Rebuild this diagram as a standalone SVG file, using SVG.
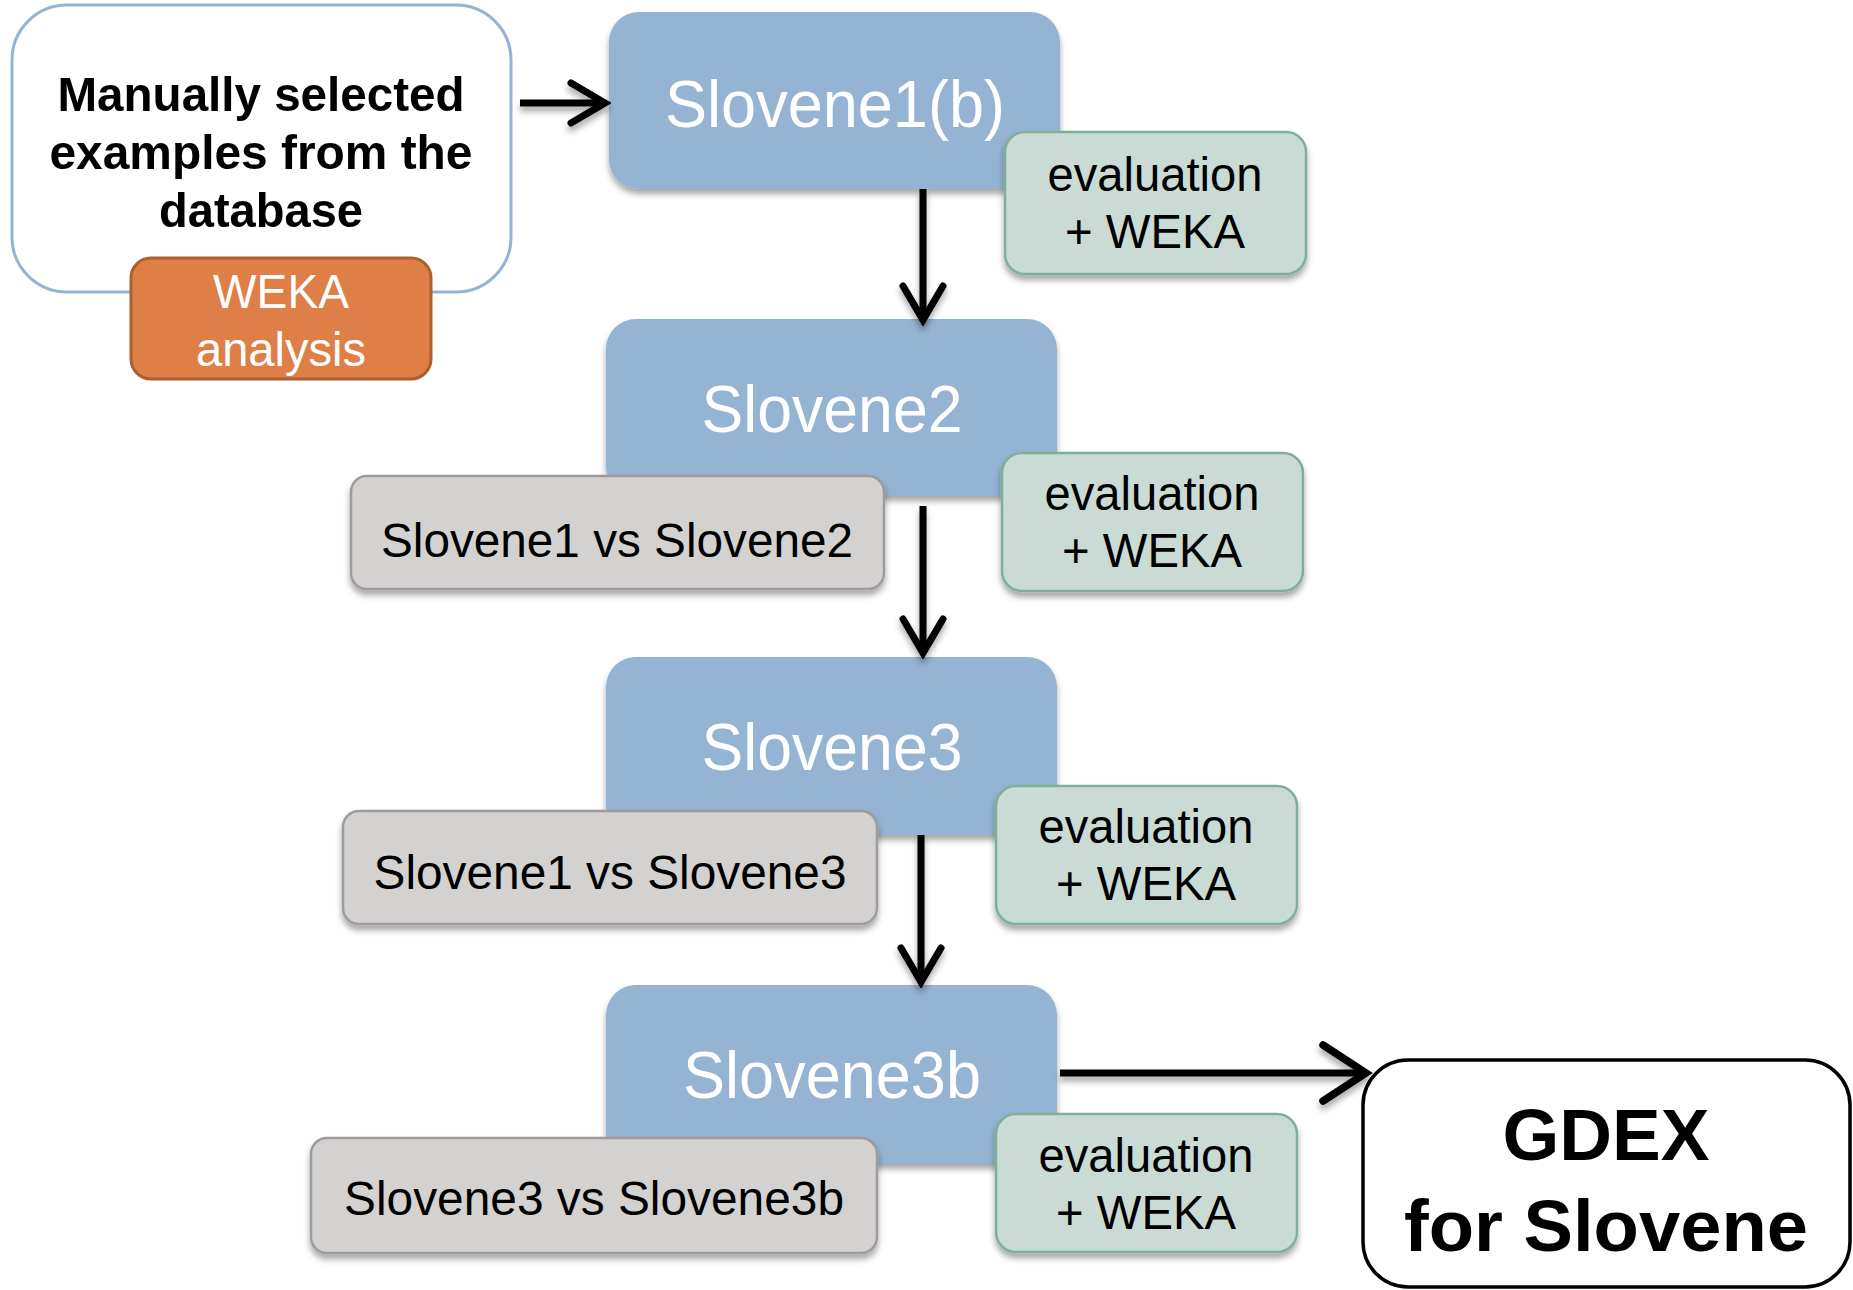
<svg xmlns="http://www.w3.org/2000/svg" width="1853" height="1290" viewBox="0 0 1853 1290">
<defs>
<filter id="sh" x="-10%" y="-10%" width="120%" height="130%">
<feDropShadow dx="0" dy="5" stdDeviation="3" flood-color="#000" flood-opacity="0.35"/>
</filter>
<marker id="ah" markerUnits="userSpaceOnUse" markerWidth="48" markerHeight="48" viewBox="0 0 48 48" refX="42" refY="24" orient="auto">
<path d="M8,4 L42,24 L8,44" fill="none" stroke="#000" stroke-width="7" stroke-linecap="round"/>
</marker>
<marker id="ahBig" markerUnits="userSpaceOnUse" markerWidth="60" markerHeight="64" viewBox="0 0 60 64" refX="53" refY="32" orient="auto">
<path d="M10,4 L53,32 L10,60" fill="none" stroke="#000" stroke-width="7.5" stroke-linecap="round"/>
</marker>
</defs>
<style>
text{font-family:"Liberation Sans",Arial,sans-serif;text-anchor:middle}
.blue{fill:#95b3d3}
.bt{fill:#fff;font-size:66px}
.eval{fill:#cadbd5;stroke:#7fae9b;stroke-width:2.5}
.cmp{fill:#d3d2d1;stroke:#a09a9a;stroke-width:2.5}
.dt{fill:#000;font-size:48px}
.conn{stroke:#000;stroke-width:7;fill:none}
</style>
<rect width="1853" height="1290" fill="#fff"/>

<g id="input">
<rect x="12" y="5" width="499" height="287" rx="55" fill="#fff" stroke="#95b3d7" stroke-width="3"/>
<text x="261" y="111" font-size="49" font-weight="bold" textLength="407" lengthAdjust="spacingAndGlyphs">Manually selected</text>
<text x="261" y="169" font-size="49" font-weight="bold" textLength="423" lengthAdjust="spacingAndGlyphs">examples from the</text>
<text x="261" y="227" font-size="49" font-weight="bold" textLength="204" lengthAdjust="spacingAndGlyphs">database</text>
</g>
<g id="weka">
<rect x="131" y="258" width="300" height="121" rx="20" fill="#de7f48" stroke="#ad5f2e" stroke-width="3"/>
<text x="281" y="308" font-size="48" fill="#fff" textLength="136" lengthAdjust="spacingAndGlyphs">WEKA</text>
<text x="281" y="366" font-size="48" fill="#fff" textLength="170" lengthAdjust="spacingAndGlyphs">analysis</text>
</g>

<g id="slovene1b">
<rect class="blue" x="609" y="12" width="451" height="177" rx="30" filter="url(#sh)"/>
<text class="bt" x="835" y="127" textLength="340" lengthAdjust="spacingAndGlyphs">Slovene1(b)</text>
</g>
<g id="eval1">
<rect class="eval" x="1005" y="132" width="301" height="142" rx="20" filter="url(#sh)"/>
<text class="dt" x="1155" y="191" textLength="215" lengthAdjust="spacingAndGlyphs">evaluation</text>
<text class="dt" x="1155" y="248" textLength="180" lengthAdjust="spacingAndGlyphs">+ WEKA</text>
</g>

<g id="slovene2">
<rect class="blue" x="606" y="319" width="451" height="177" rx="30" filter="url(#sh)"/>
<text class="bt" x="832" y="432" textLength="261" lengthAdjust="spacingAndGlyphs">Slovene2</text>
</g>
<g id="cmp1">
<rect class="cmp" x="351" y="476" width="533" height="113" rx="16" filter="url(#sh)"/>
<text class="dt" x="617" y="557" textLength="472" lengthAdjust="spacingAndGlyphs">Slovene1 vs Slovene2</text>
</g>
<g id="eval2">
<rect class="eval" x="1002" y="453" width="301" height="138" rx="20" filter="url(#sh)"/>
<text class="dt" x="1152" y="510" textLength="215" lengthAdjust="spacingAndGlyphs">evaluation</text>
<text class="dt" x="1152" y="567" textLength="180" lengthAdjust="spacingAndGlyphs">+ WEKA</text>
</g>

<g id="slovene3">
<rect class="blue" x="606" y="657" width="451" height="178" rx="30" filter="url(#sh)"/>
<text class="bt" x="832" y="770" textLength="261" lengthAdjust="spacingAndGlyphs">Slovene3</text>
</g>
<g id="cmp2">
<rect class="cmp" x="343" y="811" width="534" height="113" rx="16" filter="url(#sh)"/>
<text class="dt" x="610" y="889" textLength="473" lengthAdjust="spacingAndGlyphs">Slovene1 vs Slovene3</text>
</g>
<g id="eval3">
<rect class="eval" x="996" y="786" width="301" height="138" rx="20" filter="url(#sh)"/>
<text class="dt" x="1146" y="843" textLength="215" lengthAdjust="spacingAndGlyphs">evaluation</text>
<text class="dt" x="1146" y="900" textLength="180" lengthAdjust="spacingAndGlyphs">+ WEKA</text>
</g>

<g id="slovene3b">
<rect class="blue" x="606" y="985" width="451" height="179" rx="30" filter="url(#sh)"/>
<text class="bt" x="832" y="1098" textLength="298" lengthAdjust="spacingAndGlyphs">Slovene3b</text>
</g>
<g id="cmp3">
<rect class="cmp" x="311" y="1138" width="566" height="115" rx="16" filter="url(#sh)"/>
<text class="dt" x="594" y="1215" textLength="500" lengthAdjust="spacingAndGlyphs">Slovene3 vs Slovene3b</text>
</g>
<g id="eval4">
<rect class="eval" x="996" y="1114" width="301" height="138" rx="20" filter="url(#sh)"/>
<text class="dt" x="1146" y="1172" textLength="215" lengthAdjust="spacingAndGlyphs">evaluation</text>
<text class="dt" x="1146" y="1229" textLength="180" lengthAdjust="spacingAndGlyphs">+ WEKA</text>
</g>

<g id="gdex">
<rect x="1363" y="1060" width="487" height="227" rx="45" fill="#fff" stroke="#000" stroke-width="3.5"/>
<text x="1606" y="1160" font-size="72" font-weight="bold" textLength="207" lengthAdjust="spacingAndGlyphs">GDEX</text>
<text x="1606" y="1251" font-size="72" font-weight="bold" textLength="404" lengthAdjust="spacingAndGlyphs">for Slovene</text>
</g>

<g id="connectors" filter="url(#sh)">
<line class="conn" x1="520" y1="103" x2="605" y2="103" marker-end="url(#ah)"/>
<line class="conn" x1="923" y1="189" x2="923" y2="320" marker-end="url(#ah)"/>
<line class="conn" x1="923" y1="506" x2="923" y2="653" marker-end="url(#ah)"/>
<line class="conn" x1="921" y1="835" x2="921" y2="982" marker-end="url(#ah)"/>
<line class="conn" x1="1060" y1="1073" x2="1366" y2="1073" stroke-width="7.5" marker-end="url(#ahBig)"/>
</g>
</svg>
